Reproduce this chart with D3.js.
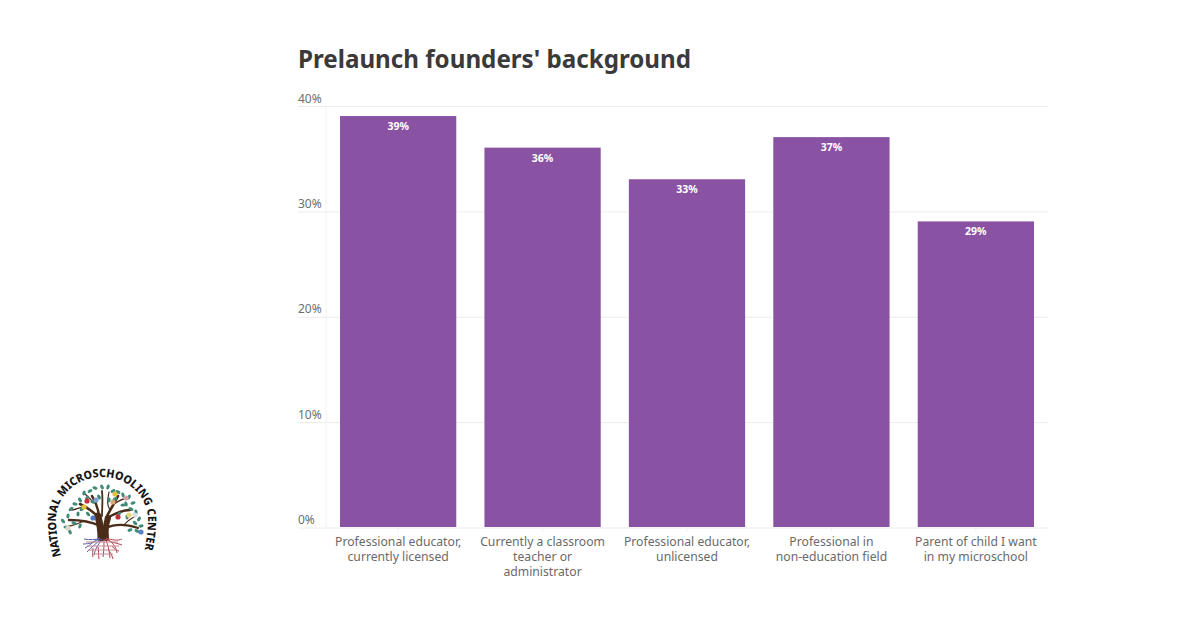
<!DOCTYPE html>
<html>
<head>
<meta charset="utf-8">
<script src="https://cdn.jsdelivr.net/npm/d3@7/dist/d3.min.js"></script>
<style>
  html, body { margin: 0; padding: 0; background: #fff; }
  svg { display: block; }
  text { font-family: "Noto Sans", "Open Sans", sans-serif; }
</style>
</head>
<body>
<svg id="chart" width="1200" height="628"></svg>
<script>
const categories = [
  ["Professional educator,", "currently licensed"],
  ["Currently a classroom", "teacher or", "administrator"],
  ["Professional educator,", "unlicensed"],
  ["Professional in", "non-education field"],
  ["Parent of child I want", "in my microschool"]
];
const values = [39, 36, 33, 37, 29];
const yTicks = [0, 10, 20, 30, 40];
const chartTitle = "Prelaunch founders' background";
const logoName = "NATIONAL MICROSCHOOLING CENTER";

const svg = d3.select("#chart");
const x = d3.scaleBand().domain(d3.range(values.length)).range([326, 1048]).paddingInner(0.195).paddingOuter(0.097);
const y = d3.scaleLinear().domain([0, 40]).range([527, 105.5]);

// Title
svg.append("text").attr("x", 298).attr("y", 68)
  .attr("font-size", 25).attr("font-weight", 700).attr("fill", "#3a3a3a")
  .attr("textLength", 393).attr("lengthAdjust", "spacingAndGlyphs")
  .text(chartTitle);

// Horizontal gridlines and value axis labels
const yAxis = d3.axisLeft(y).tickValues(yTicks).tickFormat(d => d + "%").tickSize(0).tickPadding(0);
const yG = svg.append("g").call(yAxis);
yG.select(".domain").remove();
yG.selectAll(".tick").each(function () {
  const t = d3.select(this);
  t.append("line").attr("x1", 298).attr("x2", 1048).attr("y1", 0.5).attr("y2", 0.5)
    .attr("stroke", "#ececec").attr("stroke-width", 1);
  t.select("text").attr("x", 298).attr("y", -3.5).attr("dy", 0)
    .attr("text-anchor", "start").attr("font-size", 12).attr("font-family", "'Noto Sans', sans-serif")
    .attr("fill", "#6e6e6e").raise();
});

// Faint vertical rule at the start of the plot
svg.append("line").attr("x1", 326).attr("x2", 326).attr("y1", y(40)).attr("y2", y(0))
  .attr("stroke", "#f2f2f2");

// Bars
svg.selectAll("rect.bar").data(values).join("rect").attr("class", "bar")
  .attr("x", (d, i) => x(i)).attr("width", x.bandwidth())
  .attr("y", d => y(d)).attr("height", d => y(0) - y(d))
  .attr("fill", "#8a52a3");

// Value labels inside the bars
svg.selectAll("text.val").data(values).join("text").attr("class", "val")
  .attr("x", (d, i) => x(i) + x.bandwidth() / 2).attr("y", d => y(d) + 14)
  .attr("text-anchor", "middle").attr("font-size", 10.5).attr("font-weight", 700)
  .attr("fill", "#fff").text(d => d + "%");

// Category labels and tick marks
const catG = svg.selectAll("g.cat").data(categories).join("g").attr("class", "cat")
  .attr("transform", (d, i) => `translate(${x(i) + x.bandwidth() / 2},0)`);
catG.append("line").attr("y1", 527).attr("y2", 532).attr("stroke", "#f0f0f0");
catG.each(function (lines) {
  d3.select(this).selectAll("text").data(lines).join("text")
    .attr("y", (d, i) => 546 + i * 15.2)
    .attr("text-anchor", "middle").attr("font-size", 12.2).attr("fill", "#6a6a6a")
    .text(d => d);
});

// Organisation mark: curved name around a tree with coloured roots
const ring = svg.append("g").attr("transform", "translate(102,520)");
ring.append("defs").append("path").attr("id", "nameArc")
  .attr("d", "M-41 36 C-44 24 -46 12 -46 0 A46 43 0 0 1 46 0 C46 12 44 24 41 36");
ring.append("text").attr("font-size", 11.5).attr("font-weight", 800).attr("fill", "#161616")
  .attr("font-family", "'Open Sans', sans-serif")
  .append("textPath").attr("href", "#nameArc").attr("startOffset", "0")
  .attr("textLength", 206).attr("lengthAdjust", "spacingAndGlyphs")
  .text(logoName);

const logo = svg.append("g").attr("transform", "translate(102,524)");

const branches = [
  ["M-1 14 C-1 6 -2 0 -4 -8", 7],
  ["M4 14 C3 6 4 0 6 -6", 6],
  ["M-3 -6 C-8 -12 -14 -16 -22 -20", 2.6],
  ["M-3 -8 C-4 -16 -6 -22 -10 -28", 2.4],
  ["M4 -6 C8 -14 12 -20 16 -28", 2.6],
  ["M5 -6 C12 -10 20 -14 28 -14", 2.4],
  ["M-2 2 C-10 -2 -20 -4 -33 -4", 2.4],
  ["M4 4 C12 0 24 0 36 4", 2.2],
  ["M0 -8 C0 -16 1 -24 0 -33", 1.8],
  ["M-16 -17 C-20 -18 -26 -14 -30 -14", 1.3],
  ["M-6 -20 C-12 -24 -14 -28 -17 -30", 1.3],
  ["M12 -20 C18 -24 22 -26 26 -26", 1.3],
  ["M-18 -3 C-24 0 -30 2 -36 3", 1.3],
  ["M22 1 C26 -4 30 -6 34 -8", 1.2],
  ["M8 -14 C4 -20 6 -26 7 -32", 1.2]
];
logo.selectAll("path.branch").data(branches).join("path").attr("class", "branch")
  .attr("d", d => d[0]).attr("fill", "none").attr("stroke", "#4a2c18")
  .attr("stroke-width", d => d[1]).attr("stroke-linecap", "round");

const leaves = [
  [-36,3],[-39,-3],[-34,-8],[-31,-15],[-27,-20],[-22,-24],[-18,-31],[-12,-33],[-7,-36],[0,-37],[6,-37],[11,-33],
  [16,-32],[21,-29],[27,-27],[31,-21],[29,-15],[34,-12],[37,-5],[39,2],[33,-1],[25,-7],[17,-10],[21,-19],[-14,-10],
  [-24,-10],[-20,-15],[-9,-22],[-3,-27],[7,-24],[13,-25],[-28,-1],[-32,8],[-22,2],[28,6],[35,7],[24,-20],[-15,-26]
];
logo.selectAll("ellipse.leaf").data(leaves).join("ellipse").attr("class", "leaf")
  .attr("cx", d => d[0]).attr("cy", d => d[1]).attr("rx", 2.6).attr("ry", 1.6)
  .attr("transform", (d, i) => `rotate(${i * 47 % 180} ${d[0]} ${d[1]})`)
  .attr("fill", "#3f8a78");

const birds = [
  [-15,-23,"#c62f3a"],[-18,-17,"#e4c13a"],[-6,-24,"#7fa0d8"],[13,-30,"#e4c13a"],[24,-26,"#dca0a8"],
  [-9,-6,"#4f79c4"],[16,-7,"#c62f3a"],[33,-9,"#d9dde0"],[39,8,"#5a82c4"],[-34,4,"#ddd6c8"],[11,-22,"#d6a77a"],[27,-9,"#e6d47a"]
];
logo.selectAll("circle.bird").data(birds).join("circle").attr("class", "bird")
  .attr("cx", d => d[0]).attr("cy", d => d[1]).attr("r", 2.6).attr("fill", d => d[2]);

const blue = "#5a62a8", red = "#b2434e";
const roots = [
  ["M-2 14 C-6 16 -12 16 -18 15", blue],
  ["M-2 14 C-6 18 -13 20 -19 20", blue],
  ["M-1 15 C-6 20 -12 24 -15 28", blue],
  ["M0 15 C-3 20 -7 24 -8 31", blue],
  ["M-3 15 C-8 16 -12 22 -17 24", blue],
  ["M2 15 C2 20 2 26 1 33", red],
  ["M3 15 C6 20 7 25 8 34", red],
  ["M4 14 C10 18 14 22 15 29", red],
  ["M4 14 C10 16 16 17 20 15", red],
  ["M4 15 C10 19 15 19 20 21", red],
  ["M-4 23 C-3 26 -4 30 -3 35", red],
  ["M-9 24 C-9 27 -10 30 -9 33", red],
  ["M6 25 C8 28 10 31 11 35", red],
  ["M10 22 C12 25 15 27 17 27", red],
  ["M-16 18 H16 M-15 22 H17 M-13 26 H14 M-10 30 H11", "#c98a92"]
];
logo.selectAll("path.root").data(roots).join("path").attr("class", "root")
  .attr("d", d => d[0]).attr("fill", "none").attr("stroke", d => d[1]).attr("stroke-width", 1);
</script>
</body>
</html>
